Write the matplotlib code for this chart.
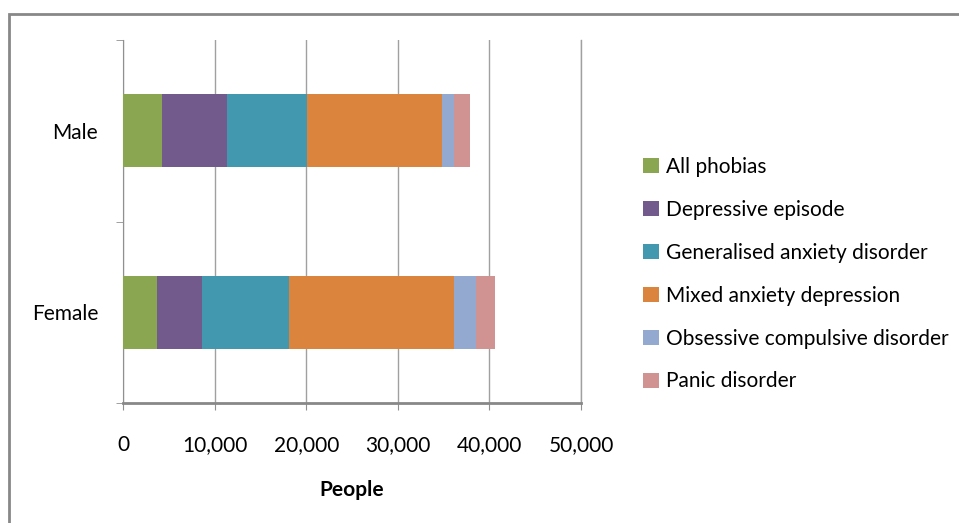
import matplotlib.pyplot as plt
from matplotlib.patches import Rectangle
from matplotlib.ticker import FuncFormatter, FixedLocator

plt.rcParams['font.family'] = ['Lato', 'DejaVu Sans']

groups = ["Female", "Male"]
disorders = ["All phobias", "Depressive episode", "Generalised anxiety disorder",
             "Mixed anxiety depression", "Obsessive compulsive disorder", "Panic disorder"]
# values per disorder: [Female, Male]
all_phobias = [3670, 4290]
depressive = [4900, 7010]
gad = [9560, 8790]
mixed = [18000, 14770]
ocd = [2400, 1270]
panic = [2100, 1710]
series = [all_phobias, depressive, gad, mixed, ocd, panic]
colours = ["#8AA650", "#725A8C", "#4298AF", "#DB843D", "#93A9CF", "#D19392"]

fig = plt.figure(figsize=(9.59, 5.23), dpi=100)
ax = fig.add_axes([123 / 959, 1 - 403 / 523, 458 / 959, 363 / 523])

left = [0, 0]
for name, vals, c in zip(disorders, series, colours):
    ax.barh([0, 1], vals, left=left, height=0.4, color=c, label=name, zorder=3)
    left = [a + b for a, b in zip(left, vals)]

ax.set_xlim(0, 50000)
ax.set_ylim(-0.5, 1.5)
ax.set_xticks(range(0, 50001, 10000))
ax.xaxis.set_major_formatter(FuncFormatter(lambda v, p: f"{int(v):,}"))
ax.grid(axis="x", color="#a0a0a0", linewidth=1, zorder=0)
ax.axvline(50000, color="#a0a0a0", linewidth=1, zorder=0, clip_on=False)
ax.set_yticks([0, 1])
ax.set_yticklabels(groups)
ax.yaxis.set_minor_locator(FixedLocator([-0.5, 0.5, 1.5]))
ax.tick_params(axis="y", which="major", length=0, pad=18, labelsize=15)
ax.tick_params(axis="y", which="minor", length=5, color="#909090", direction="out")
ax.tick_params(axis="x", length=5, color="#909090", direction="out", pad=18, labelsize=15)
for s in ["top", "right"]:
    ax.spines[s].set_visible(False)
ax.spines["left"].set_color("#909090")
ax.spines["bottom"].set_color("#888888")
ax.spines["bottom"].set_linewidth(2)
ax.set_xlabel("People", fontsize=15, fontweight="bold", labelpad=18)

ax.legend(loc="center left", bbox_to_anchor=(1.095, 0.355), frameon=False,
          fontsize=15, handlelength=0.75, handleheight=0.75, handletextpad=0.35,
          labelspacing=1.1)

fig.patches.append(Rectangle((9 / 959, -0.1), 1.2, 1.1 - 14 / 523, transform=fig.transFigure,
                             fill=False, edgecolor="#888888", linewidth=2))

fig.savefig("out.png", dpi=100)
